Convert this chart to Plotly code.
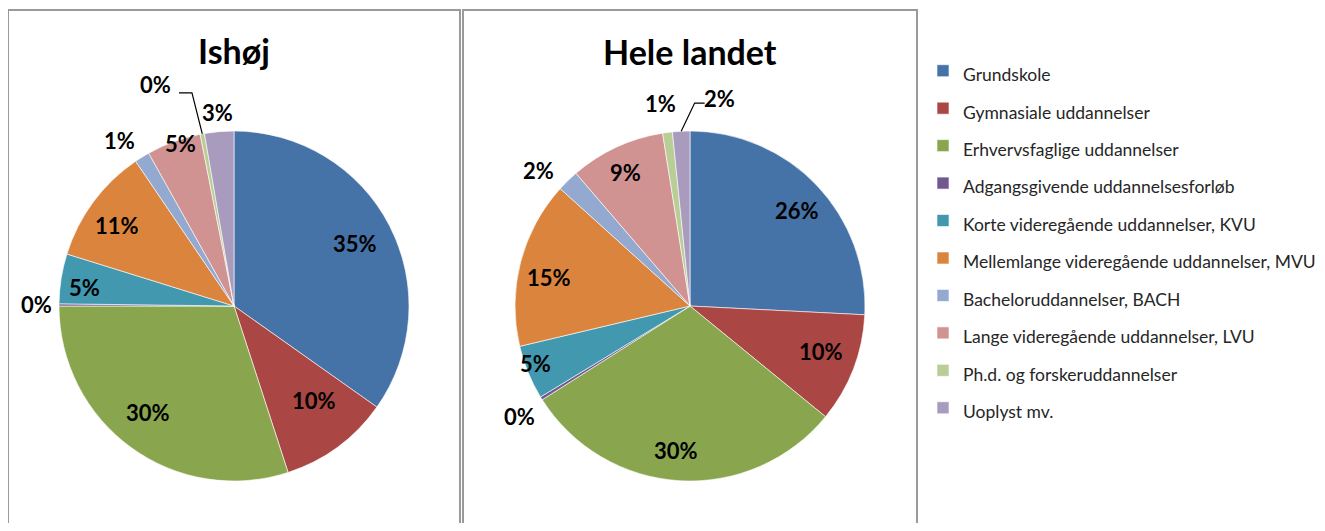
import math
import plotly.graph_objects as go

categories = [
    "Grundskole",
    "Gymnasiale uddannelser",
    "Erhvervsfaglige uddannelser",
    "Adgangsgivende uddannelsesforløb",
    "Korte videregående uddannelser, KVU",
    "Mellemlange videregående uddannelser, MVU",
    "Bacheloruddannelser, BACH",
    "Lange videregående uddannelser, LVU",
    "Ph.d. og forskeruddannelser",
    "Uoplyst mv.",
]
ishoj = [34.8, 10.2, 30.0, 0.2, 4.6, 10.7, 1.4, 5.0, 0.4, 2.7]
hele_landet = [25.8, 10.1, 30.1, 0.3, 5.0, 15.4, 2.0, 8.8, 0.9, 1.6]
titles = ["Ishøj", "Hele landet"]
colors = ["#4572A7", "#AA4643", "#89A54E", "#71588F", "#4198AF",
          "#DB843D", "#93A9CF", "#D19392", "#B9CD96", "#A99BBD"]

# label placement styles (radial factor, angular nudge in degrees)
lab_f_left = [0.78, 0.71, 0.78, 1.13, 0.86, 0.81, 1.15, 0.98, 1.34, 1.11]
lab_d_left = [0, -4, 3, 0, -2, -2, -3, 2, -9, 0]
lab_f_right = [0.82, 0.79, 0.83, 1.16, 0.94, 0.82, 1.16, 0.85, 1.17, 1.20]
lab_d_right = [2, -2, 2, -1, 2, -3, -4, -1, -1, 11]

# page is offset by the 8px body margin
OFF = 8
W, H = 1325 - 2 * OFF, 531 - 2 * OFF
FONT = "Lato"


def px(x):
    return (x - OFF) / W


def py(y):
    return 1 - (y - OFF) / H


def dom(cx, cy, r):
    return dict(x=[px(cx - r), px(cx + r)], y=[py(cy + r), py(cy - r)])


pies = [
    dict(vals=ishoj, cx=234, cy=306, r=175, f=lab_f_left, d=lab_d_left,
         leader=8, end=(23, 8), knee=(36, 8), title=titles[0], tx=234, ty=50),
    dict(vals=hele_landet, cx=690, cy=306, r=175, f=lab_f_right, d=lab_d_right,
         leader=9, end=(-15, 5), knee=(-25, 5), title=titles[1], tx=690, ty=52),
]

legend_labels = ['<span style="font-size:17.5px">%s</span>' % c for c in categories]

fig = go.Figure()
annotations = []
shapes = []

for i, p in enumerate(pies):
    vals = p["vals"]
    fig.add_trace(go.Pie(
        labels=legend_labels, values=vals, sort=False, direction="clockwise", rotation=0,
        marker=dict(colors=colors, line=dict(color="#ffffff", width=0.6)),
        textinfo="none", domain=dom(p["cx"], p["cy"], p["r"]),
        showlegend=(i == 0), hoverinfo="label+percent",
    ))
    total = sum(vals)
    cum = 0.0
    for k, v in enumerate(vals):
        mid = (cum + v / 2) / total * 360
        cum += v
        ang = math.radians(mid + p["d"][k])
        lx = p["cx"] + p["f"][k] * p["r"] * math.sin(ang)
        ly = p["cy"] - p["f"][k] * p["r"] * math.cos(ang)
        annotations.append(dict(
            text="<b>%d%%</b>" % round(v / total * 100), x=px(lx), y=py(ly),
            xref="paper", yref="paper", showarrow=False, xanchor="center", yanchor="middle",
            font=dict(family=FONT, size=22, color="black")))
        if k == p["leader"]:
            ma = math.radians(mid)
            ex = p["cx"] + p["r"] * math.sin(ma)
            ey = p["cy"] - p["r"] * math.cos(ma)
            kx, ky = lx + p["knee"][0], ly + p["knee"][1]
            sx, sy = lx + p["end"][0], ly + p["end"][1]
            shapes.append(dict(
                type="path", xref="paper", yref="paper",
                path="M %f,%f L %f,%f L %f,%f" % (px(ex), py(ey), px(kx), py(ky), px(sx), py(sy)),
                line=dict(color="black", width=1.2)))
    annotations.append(dict(
        text="<b>%s</b>" % p["title"], x=px(p["tx"]), y=py(p["ty"]), xref="paper", yref="paper",
        showarrow=False, font=dict(family=FONT, size=34, color="black"),
        xanchor="center", yanchor="middle"))

for x0, x1 in [(8, 460), (463, 917)]:
    shapes.append(dict(type="rect", xref="paper", yref="paper", x0=px(x0), x1=px(x1),
                       y0=-0.1, y1=py(10), line=dict(color="#9a9a9a", width=2),
                       fillcolor="rgba(0,0,0,0)"))

fig.update_layout(
    width=W, height=H,
    margin=dict(l=0, r=0, t=0, b=0, autoexpand=False),
    paper_bgcolor="white", plot_bgcolor="white",
    shapes=shapes, annotations=annotations,
    legend=dict(x=px(923), y=py(47), xanchor="left", yanchor="top",
                font=dict(family=FONT, size=26.5, color="#262626"),
                traceorder="normal", itemwidth=30,
                bgcolor="rgba(0,0,0,0)"),
)

fig.write_html("out.html")
